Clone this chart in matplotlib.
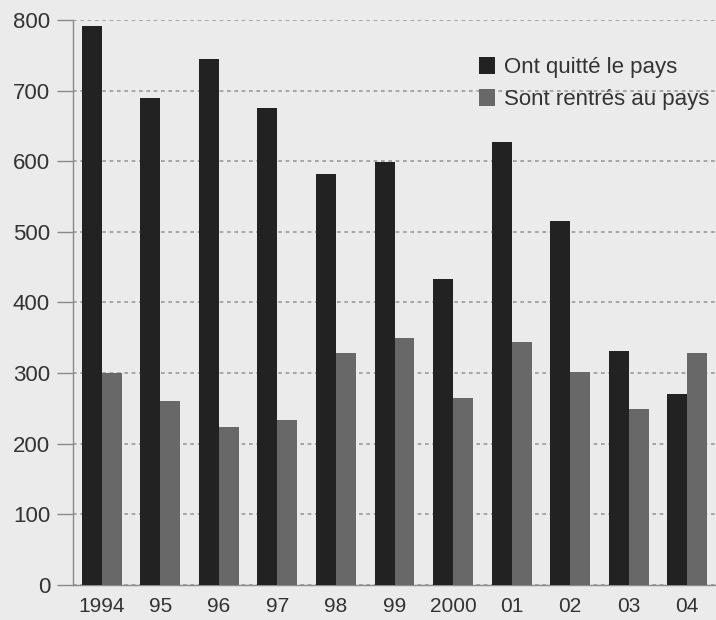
import matplotlib
matplotlib.use('Agg')
import matplotlib.pyplot as plt
import numpy as np

years = ['1994', '95', '96', '97', '98', '99', '2000', '01', '02', '03', '04']
left_country = [791, 689, 745, 675, 582, 599, 433, 627, 515, 332, 271]
returned = [300, 261, 224, 233, 329, 350, 265, 344, 301, 249, 329]
labels = ['Ont quitté le pays', 'Sont rentrés au pays']

fonts = ['Liberation Sans Narrow', 'Liberation Sans', 'DejaVu Sans']

fig = plt.figure(figsize=(7.16, 6.2), dpi=100, facecolor='#ebebeb')
ax = fig.add_axes([0.102, 0.0565, 0.898, 0.9112])
ax.set_facecolor('#ebebeb')

x = np.arange(len(years))
w = 0.34
ax.bar(x - w / 2, left_country, width=w, color='#222222', label=labels[0], zorder=3)
ax.bar(x + w / 2, returned, width=w, color='#686868', label=labels[1], zorder=3)

ax.set_xlim(-0.49, 10.49)
ax.set_ylim(0, 800)
ax.set_yticks(range(0, 801, 100))
ax.set_xticks(x)
ax.set_xticklabels(years)

ax.yaxis.grid(True, color='#9a9a9a', linestyle=(0, (2.2, 2.2)), linewidth=1.2, zorder=0)

for s in ['top', 'right']:
    ax.spines[s].set_visible(False)
for s in ['left', 'bottom']:
    ax.spines[s].set_color('#8a8a8a')
    ax.spines[s].set_linewidth(1.0)

ax.tick_params(axis='y', length=11.5, width=1.0, color='#8a8a8a', pad=5,
               labelsize=16, labelcolor='#333333')
ax.tick_params(axis='x', length=0, pad=9, labelsize=15, labelcolor='#333333')
for t in ax.get_yticklabels() + ax.get_xticklabels():
    t.set_family(fonts)

leg = ax.legend(loc='upper left', bbox_to_anchor=(0.631, 0.935), frameon=False,
                prop={'family': fonts, 'size': 16}, handlelength=0.72,
                handleheight=0.81, handletextpad=0.4, labelspacing=0.5,
                borderpad=0, borderaxespad=0)
for t in leg.get_texts():
    t.set_color('#333333')

plt.savefig('out.png', dpi=100, facecolor=fig.get_facecolor())
